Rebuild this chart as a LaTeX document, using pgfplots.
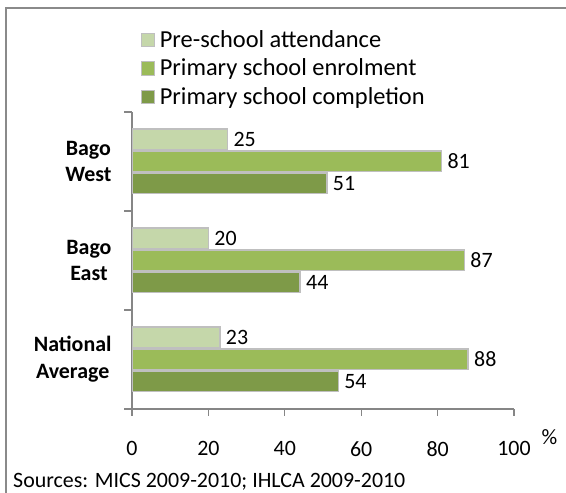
\documentclass[border=0pt]{standalone}
\usepackage{pgfplots}
\pgfplotsset{compat=1.18}
\usepackage{fontspec}
\setmainfont{Carlito}

\definecolor{preschool}{HTML}{C5D7AA}
\definecolor{enrol}{HTML}{9BBB59}
\definecolor{complet}{HTML}{7E9A48}
\definecolor{baredge}{HTML}{BFBFBF}
\definecolor{axisgray}{HTML}{868686}
\definecolor{framegray}{HTML}{8A8A8A}

\newcommand{\chartfont}{\fontsize{22}{27}\selectfont}
\newcommand{\legendfont}{\fontsize{24.5}{29}\selectfont}

\begin{document}
\begin{tikzpicture}[x=1bp, y=1bp]
\useasboundingbox (0,0) rectangle (566,493);
% outer frame (only top and left edges are visible)
\draw[line width=2bp, framegray] (6,0) -- (6,485) -- (566,485);

\begin{axis}[
    at={(132bp,84bp)}, anchor=south west,
    scale only axis,
    width=382bp, height=297bp,
    xbar,
    xmin=0, xmax=100,
    ymin=-0.5, ymax=2.5,
    axis x line*=bottom,
    axis y line*=left,
    axis line style={axisgray, line width=1.3bp},
    xtick={0,20,...,100},
    ytick={0,1,2},
    yticklabels={{National\\Average},{Bago\\East},{Bago\\West}},
    minor ytick={-0.5,0.5,1.5,2.5},
    tick align=outside,
    major tick length=7bp,
    minor tick length=8bp,
    tick style={axisgray, line width=1.3bp},
    major y tick style={draw=none},
    /pgf/number format/assume math mode=true,
    xticklabel style={font=\chartfont, yshift=-22bp},
    yticklabel style={font=\chartfont\bfseries, align=center, xshift=-10bp},
    bar width=20.5bp,
    nodes near coords,
    every node near coord/.append style={font=\chartfont, black, anchor=west, xshift=2bp},
    legend style={
        at={(axis description cs:0.022,1.28)}, anchor=north west,
        draw=none, fill=none, font=\legendfont,
        row sep=7bp, column sep=3bp, inner sep=0pt,
        nodes={inner sep=1.5bp},
    },
    legend cell align=left,
    legend image code/.code={\draw[#1, line width=1.2bp] (0bp,-7bp) rectangle (13.5bp,6.5bp);},
]
\addplot[fill=preschool, draw=baredge, line width=1.5bp, bar shift=22bp]
    coordinates {(23,0) (20,1) (25,2)};
\addplot[fill=enrol, draw=baredge, line width=1.5bp, bar shift=0bp]
    coordinates {(88,0) (87,1) (81,2)};
\addplot[fill=complet, draw=baredge, line width=1.5bp, bar shift=-22bp]
    coordinates {(54,0) (44,1) (51,2)};
\legend{Pre-school attendance, Primary school enrolment, Primary school completion}
\end{axis}

\node[font=\chartfont, inner sep=0pt] at (549.5,56) {\%};
\node[font=\chartfont, inner sep=0pt, anchor=west] at (13,11) {Sources: MICS 2009-2010; IHLCA 2009-2010};
\end{tikzpicture}
\end{document}
